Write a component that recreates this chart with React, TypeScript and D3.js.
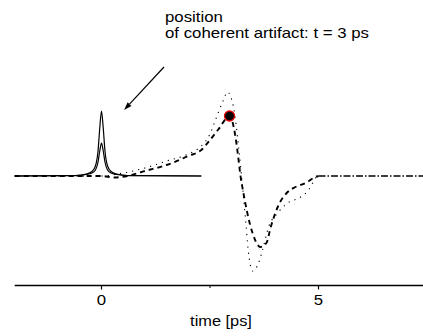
import React from "react";
import * as d3 from "d3";

// time axis [ps] and signals (arbitrary units)
const xTickValues = [0, 5];
const xMinorTicks = [2.5];
const xLabel = "time [ps]";
const annotationLines = ["position", "of coherent artifact: t = 3 ps"];

const artifactTall: [number, number][] = [
  [-2, 0], [-0.6, 0.005], [-0.35, 0.02], [-0.22, 0.045], [-0.14, 0.1], [-0.08, 0.25],
  [-0.04, 0.48], [0, 0.65], [0.04, 0.48], [0.08, 0.25], [0.14, 0.1], [0.22, 0.045],
  [0.35, 0.02], [0.6, 0.005], [2.3, 0],
];
const artifactLow: [number, number][] = [
  [-2, 0], [-0.6, 0.004], [-0.35, 0.015], [-0.22, 0.03], [-0.14, 0.06], [-0.08, 0.14],
  [-0.04, 0.25], [0, 0.33], [0.04, 0.25], [0.08, 0.14], [0.14, 0.06], [0.22, 0.03],
  [0.35, 0.015], [0.6, 0.004], [2.3, 0],
];
const dottedSignal: [number, number][] = [
  [-2, 0], [-1, 0], [0, 0], [0.5, 0.03], [1.0, 0.08], [1.5, 0.15], [2.0, 0.22], [2.3, 0.3],
  [2.5, 0.42], [2.6, 0.53], [2.81, 0.76], [2.9, 0.84], [3.04, 0.69], [3.16, 0.29],
  [3.25, -0.11], [3.32, -0.44], [3.38, -0.74], [3.48, -0.95], [3.62, -0.87], [3.71, -0.74],
  [3.85, -0.51], [4.06, -0.37], [4.29, -0.27], [4.59, -0.21], [4.77, -0.14], [4.88, -0.06],
  [4.95, -0.01], [5.0, 0],
];
const dashedSignal: [number, number][] = [
  [-2, 0], [0, 0], [0.3, -0.015], [0.6, 0], [1.0, 0.05], [1.5, 0.11], [2.0, 0.2], [2.3, 0.26],
  [2.5, 0.36], [2.7, 0.47], [2.95, 0.6], [3.08, 0.41], [3.15, 0.19], [3.2, 0.01],
  [3.27, -0.17], [3.36, -0.37], [3.48, -0.57], [3.6, -0.69], [3.66, -0.71], [3.8, -0.67],
  [3.9, -0.51], [4.06, -0.31], [4.29, -0.16], [4.47, -0.11], [4.7, -0.07], [4.93, -0.01],
  [5.0, 0],
];
const dashDotTail: [number, number][] = [[5.0, 0], [7.6, 0]];
const markerPoint: [number, number] = [2.95, 0.6];
const arrowFrom: [number, number] = [1.44, 1.09];
const arrowTo: [number, number] = [0.52, 0.66];

const W = 423;
const H = 336;
const FONT = "'Liberation Sans', Arial, sans-serif";

export default function App() {
  const x = d3.scaleLinear().domain([-2, 7.5]).range([14.7, 427]);
  const y = d3.scaleLinear().domain([-1, 1]).range([276, 76]);
  const line = d3
    .line<[number, number]>()
    .x((d) => x(d[0]))
    .y((d) => y(d[1]))
    .curve(d3.curveMonotoneX);
  const axisY = 285.5;
  const sx = 1.2;

  const ax0 = x(arrowFrom[0]), ay0 = y(arrowFrom[1]);
  const ax1 = x(arrowTo[0]), ay1 = y(arrowTo[1]);
  const ang = Math.atan2(ay1 - ay0, ax1 - ax0);
  const hl = 8, hw = 2.6;
  const bx = ax1 - hl * Math.cos(ang), by = ay1 - hl * Math.sin(ang);
  const head = `M${ax1},${ay1} L${bx + hw * Math.sin(ang)},${by - hw * Math.cos(ang)} L${bx - hw * Math.sin(ang)},${by + hw * Math.cos(ang)} Z`;

  return (
    <svg
      width={W}
      height={H}
      style={{ position: "absolute", left: 0, top: 0, background: "#fff" }}
      fontFamily={FONT}
    >
      <rect width={W} height={H} fill="#fff" />
      {/* curves */}
      <path d={line(artifactTall) || ""} fill="none" stroke="#000" strokeWidth={1.2} />
      <path d={line(artifactLow) || ""} fill="none" stroke="#000" strokeWidth={1.2} />
      <path d={line(dottedSignal) || ""} fill="none" stroke="#000" strokeWidth={1.1} strokeDasharray="1.2,5" />
      <path d={line(dashedSignal) || ""} fill="none" stroke="#000" strokeWidth={1.9} strokeDasharray="5,4" />
      <path d={line(dashDotTail) || ""} fill="none" stroke="#000" strokeWidth={1.3} strokeDasharray="7,2,1.5,2" />
      <circle cx={x(markerPoint[0])} cy={y(markerPoint[1])} r={5} fill="#000" stroke="#e00000" strokeWidth={1.3} />

      {/* arrow */}
      <line x1={ax0} y1={ay0} x2={bx} y2={by} stroke="#000" strokeWidth={1.2} />
      <path d={head} fill="#000" />

      {/* annotation */}
      {annotationLines.map((t, i) => (
        <text key={i} transform={`translate(165,${22 + i * 16}) scale(${sx},1)`} fontSize={14} fill="#000">
          {t}
        </text>
      ))}

      {/* axis */}
      <line x1={x(-2)} x2={W} y1={axisY} y2={axisY} stroke="#000" strokeWidth={1.3} />
      {xTickValues.map((v) => (
        <g key={v}>
          <line x1={x(v)} x2={x(v)} y1={axisY} y2={axisY + 4} stroke="#000" strokeWidth={1.2} />
          <text transform={`translate(${x(v)},305) scale(${sx},1)`} textAnchor="middle" fontSize={14} fill="#000">
            {v}
          </text>
        </g>
      ))}
      {xMinorTicks.map((v) => (
        <line key={v} x1={x(v)} x2={x(v)} y1={axisY} y2={axisY + 2.5} stroke="#000" strokeWidth={1} />
      ))}
      <text transform={`translate(221,326) scale(1.17,1)`} textAnchor="middle" fontSize={14} fill="#000">
        {xLabel}
      </text>
    </svg>
  );
}
